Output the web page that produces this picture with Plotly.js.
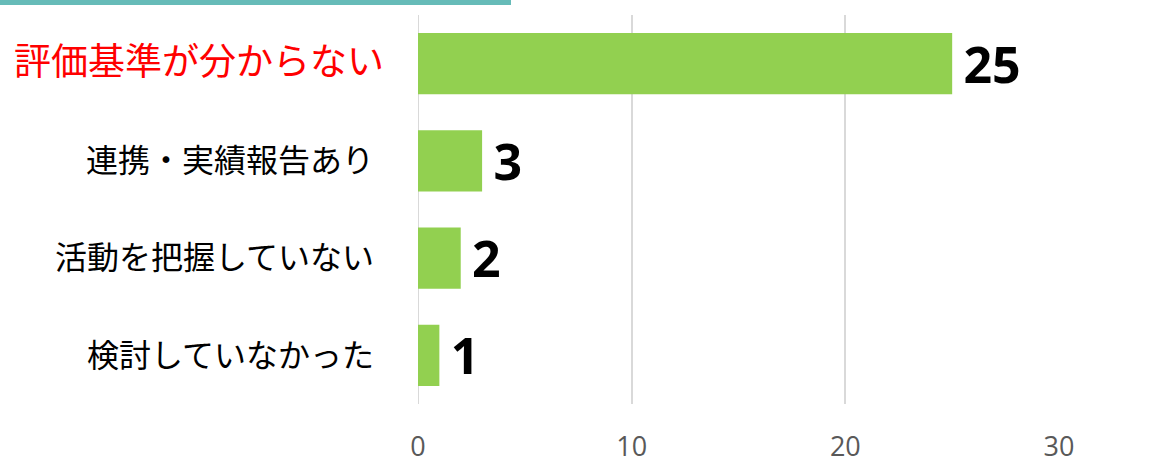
<!DOCTYPE html>
<html>
<head>
<meta charset="utf-8">
<script src="https://cdn.plot.ly/plotly-3.0.1.min.js"></script>
<style>html,body{margin:0;padding:0;background:#fff;}#chart{width:1158px;height:466px;}</style>
</head>
<body>
<div id="chart"></div>
<script>
const categories = ["評価基準が分からない", "連携・実績報告あり", "活動を把握していない", "検討していなかった"];
const values = [25, 3, 2, 1];
const xTicks = [0, 10, 20, 30];
const highlightIndex = 0;

const tickText = categories.map((c, i) => i === highlightIndex
  ? '<span style="color:#FF0000;font-size:37px">' + c + '</span>'
  : c + '<span style="font-size:20px">\u2002</span>');

const trace = {
  type: 'bar',
  orientation: 'h',
  x: values,
  y: categories,
  marker: {color: '#92D050'},
  text: values.map(v => '\u2009' + v),
  textposition: 'outside',
  cliponaxis: false,
  constraintext: 'none',
  textfont: {family: 'Noto Sans, Open Sans, sans-serif', size: 50, color: '#000000', weight: 'bold'},
  hoverinfo: 'none'
};

const layout = {
  width: 1158, height: 466,
  margin: {l: 418, r: 99, t: 15, b: 62},
  paper_bgcolor: '#ffffff', plot_bgcolor: '#ffffff',
  showlegend: false,
  bargap: 0.37,
  xaxis: {
    range: [0, 30],
    tickvals: xTicks,
    ticktext: xTicks.map(String),
    showgrid: true, gridcolor: '#D9D9D9', gridwidth: 2,
    zeroline: false, showline: false,
    ticks: '',
    ticklabelstandoff: 24,
    tickfont: {family: 'Open Sans, sans-serif', size: 27, color: '#595959'}
  },
  yaxis: {
    type: 'category',
    categoryorder: 'array', categoryarray: categories,
    autorange: 'reversed',
    tickvals: categories,
    ticktext: tickText,
    showgrid: false, zeroline: false, showline: false, ticks: '',
    ticklabelstandoff: 33,
    tickfont: {family: 'Noto Sans CJK JP, sans-serif', size: 32, color: '#000000'}
  },
  shapes: [{
    type: 'rect', xref: 'paper', yref: 'paper',
    x0: -418/641, x1: 93/641,
    y0: 1 + 10/389, y1: 1 + 16/389,
    fillcolor: '#66BBB8', line: {width: 0}
  }, {
    type: 'line', xref: 'x', yref: 'paper',
    x0: 0, x1: 0, y0: 0, y1: 1,
    line: {color: '#D9D9D9', width: 2}, layer: 'below'
  }]
};

Plotly.newPlot('chart', [trace], layout, {displayModeBar: false, staticPlot: true});
</script>
</body>
</html>
